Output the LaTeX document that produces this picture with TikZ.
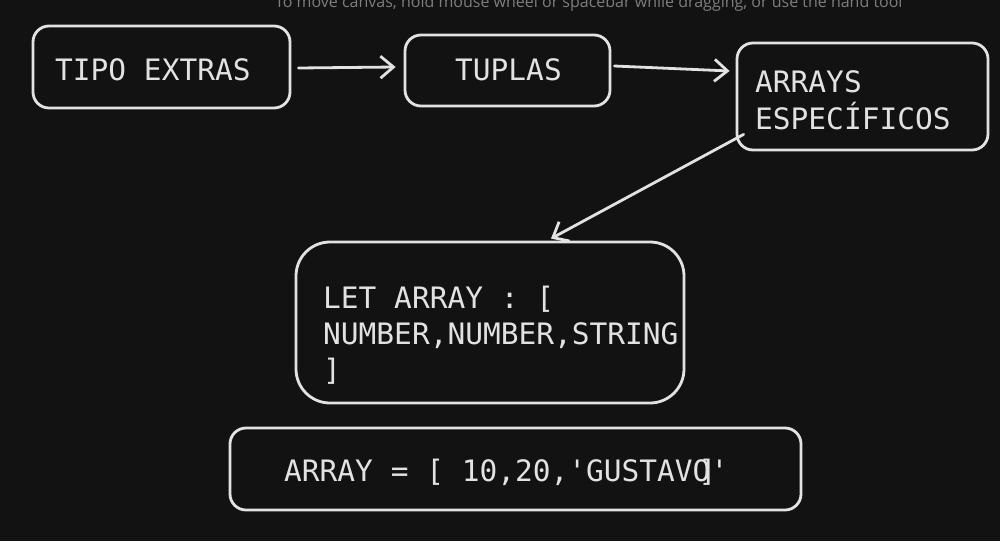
\documentclass[tikz,border=0pt]{standalone}
\usepackage{fontspec}
\setmainfont{Open Sans}
\setmonofont{DejaVu Sans Mono}
\usetikzlibrary{arrows.meta,calc}
\definecolor{bg}{HTML}{121212}
\definecolor{ink}{HTML}{E2E2E2}
\definecolor{hint}{HTML}{7E7E7E}
\tikzset{
  sbox/.style={draw=ink, line width=2.8pt, rounded corners=16pt, inner sep=0pt},
  bigbox/.style={sbox, rounded corners=34pt},
  lbl/.style={text=ink, anchor=base west, inner sep=0pt, font=\ttfamily\fontsize{29.5}{36}\selectfont},
  conn/.style={draw=ink, line width=2.8pt, line cap=round, -{Straight Barb[length=13pt,width=22pt,line width=2.8pt]}},
}
\begin{document}
\begin{tikzpicture}[x=1pt,y=-1pt]
\fill[bg] (0,0) rectangle (1000,541);
\useasboundingbox (0,0) rectangle (1000,541);
\clip (0,0) rectangle (1000,541);
\node[anchor=base west, inner sep=0pt, text=hint, font=\fontsize{16}{18}\selectfont] (hinttext) at (275,7.5) {To move canvas, hold mouse wheel or spacebar while dragging, or use the hand tool};
% boxes
\node[sbox, minimum width=257pt, minimum height=82pt] (b1) at (161.5,67) {};
\node[sbox, minimum width=205pt, minimum height=71pt] (b2) at (507.5,70.5) {};
\node[sbox, minimum width=251pt, minimum height=107pt] (b3) at (862.5,96.5) {};
\node[bigbox, minimum width=388pt, minimum height=161pt] (b4) at (490,322.5) {};
\node[sbox, minimum width=571pt, minimum height=82pt] (b5) at (515.5,469) {};
% texts
\node[lbl] (t1) at (55,80) {TIPO EXTRAS};
\node[lbl] (t2) at (455,80) {TUPLAS};
\node[lbl] (t3a) at (755,92) {ARRAYS};
\node[lbl] (t3b) at (755,129) {ESPECÍFICOS};
\node[lbl] (t4a) at (323,308) {LET ARRAY : [};
\node[lbl] (t4b) at (323,344) {NUMBER,NUMBER,STRING};
\node[lbl] (t4c) at (323,380) {]};
\node[lbl] (t5) at (284,481) {ARRAY = [ 10,20,'GUSTAVO\kern-0.4em]\kern-0.2em'};
% connectors
\draw[conn] ($(b1.east)+(7,1)$) -- ($(b2.west)+(-8,-3.5)$);
\draw[conn] ($(b2.east)+(3,-4.5)$) -- ($(b3.west)+(-6,-25.5)$);
\draw[conn] ($(b3.south west)+(8,-17)$) -- ($(b4.north)+(61,-2)$);
\end{tikzpicture}
\end{document}
